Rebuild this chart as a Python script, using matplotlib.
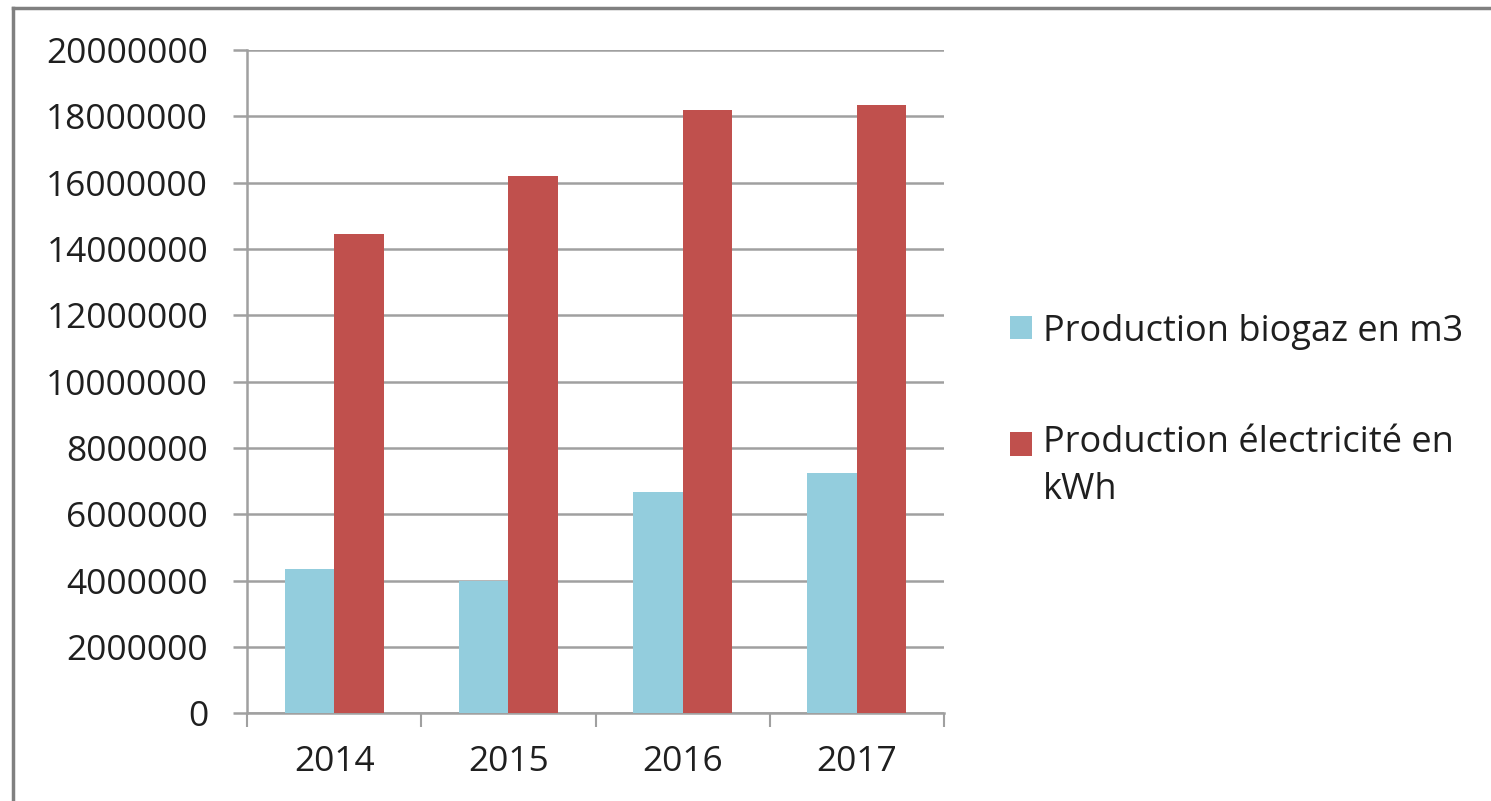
import matplotlib.pyplot as plt
import numpy as np
from matplotlib.lines import Line2D

plt.rcParams['font.family'] = ['Open Sans', 'DejaVu Sans']

# data
years = ["2014", "2015", "2016", "2017"]
biogaz = [4340000, 3990000, 6680000, 7240000]
electricite = [14440000, 16210000, 18190000, 18350000]
labels = ["Production biogaz en m3", "Production électricité en\nkWh"]

blue = "#93CDDD"
red = "#C0504D"
grey = "#A0A0A0"

fig = plt.figure(figsize=(14.91, 8.01), dpi=100)
ax = fig.add_axes([0.1657, 0.1095, 0.4674, 0.8281])

x = np.arange(len(years))
w = 0.285
ax.bar(x - w/2, biogaz, w, color=blue, label=labels[0], zorder=3)
ax.bar(x + w/2, electricite, w, color=red, label=labels[1], zorder=3)

ax.set_xlim(-0.5, len(years) - 0.5)
ax.set_ylim(0, 20000000)
ax.set_yticks(np.arange(0, 20000001, 2000000))
ax.set_yticklabels([str(v) for v in range(0, 20000001, 2000000)], fontsize=25.5, color="#1f1f1f")
ax.yaxis.grid(True, color=grey, linewidth=1.8, zorder=0)

# years in the middle, tick marks on the category boundaries
ax.set_xticks(x)
ax.set_xticklabels(years, fontsize=25.5, color="#1f1f1f")
ax.set_xticks(np.arange(-0.5, len(years)), minor=True)
ax.tick_params(axis='x', which='major', length=0, pad=23)
ax.tick_params(axis='x', which='minor', length=10, width=1.5, color=grey, direction='out')
ax.tick_params(axis='y', length=10, width=1.8, color=grey, pad=18)

for s in ['top', 'right']:
    ax.spines[s].set_visible(False)
for s in ['left', 'bottom']:
    ax.spines[s].set_color(grey)
    ax.spines[s].set_linewidth(1.8)

leg = fig.legend(loc='center left', bbox_to_anchor=(0.6774, 0.487), frameon=False,
                 fontsize=26, handlelength=0.61, handleheight=0.61, handletextpad=0.3,
                 labelspacing=2.1, borderpad=0, borderaxespad=0)
for t in leg.get_texts():
    t.set_color("#1f1f1f")
    t.set_linespacing(1.4)
# put the red square next to the first line of its two-line label
h = leg.legend_handles[1]
h.set_y(h.get_y() + 17)

# the grey frame, only top and left sides are visible
fig.add_artist(Line2D([13/1491, 13/1491], [0, 1 - 8/801], color="#808080", lw=2.5,
                      transform=fig.transFigure))
fig.add_artist(Line2D([13/1491, 1], [1 - 8/801, 1 - 8/801], color="#808080", lw=2.5,
                      transform=fig.transFigure))

fig.savefig("out.png", dpi=100)
